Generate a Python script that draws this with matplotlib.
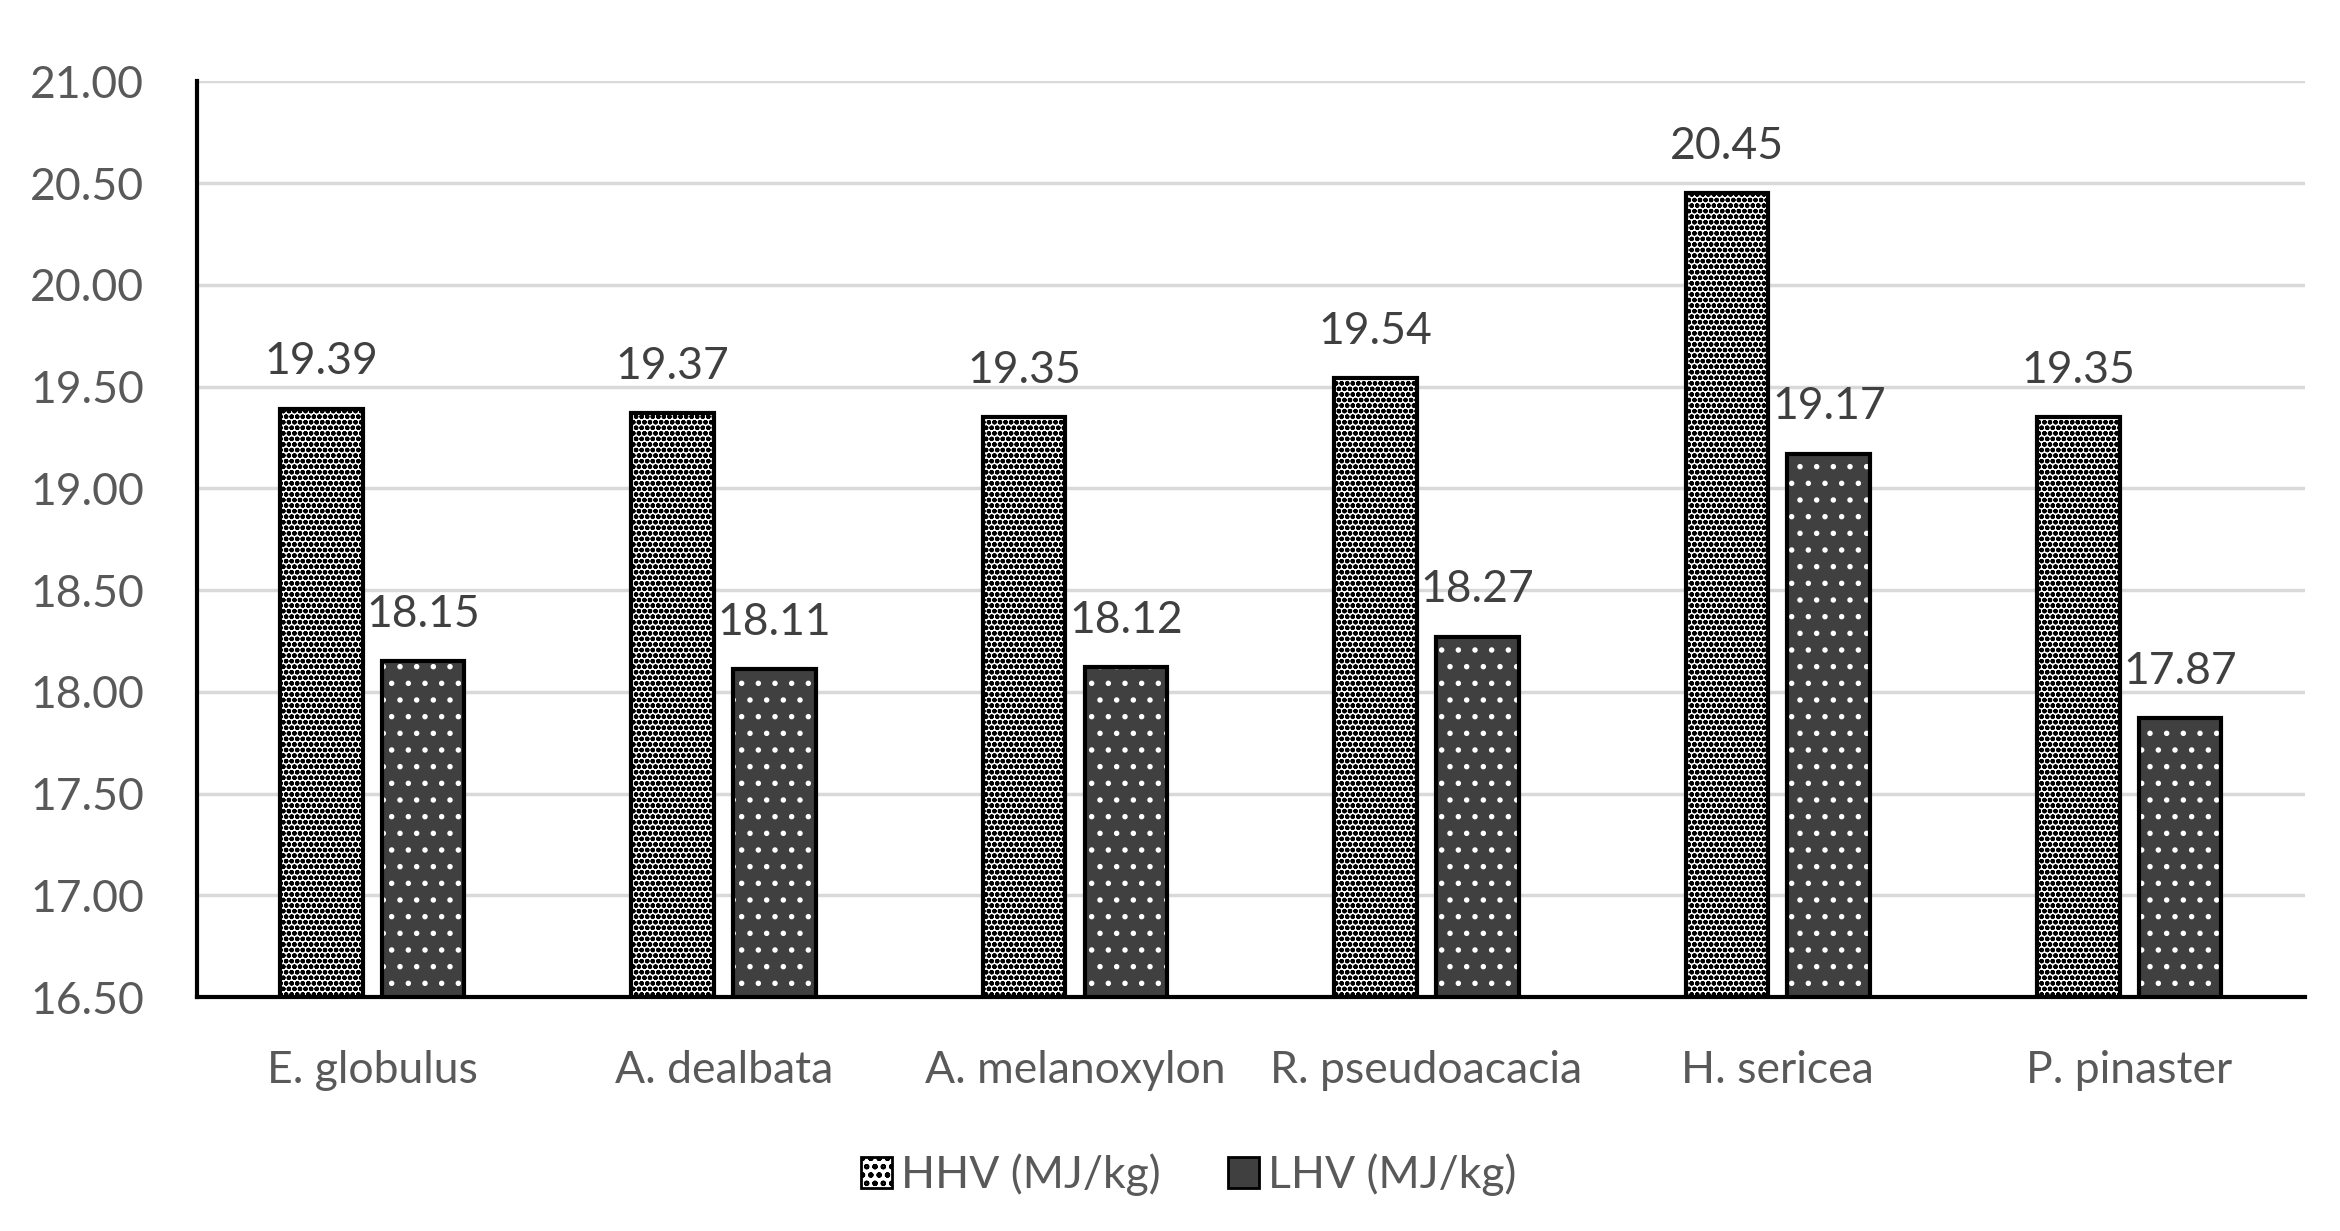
import numpy as np
import matplotlib
matplotlib.use('Agg')
import matplotlib.pyplot as plt
from matplotlib.patches import Patch

species = ['E. globulus', 'A. dealbata', 'A. melanoxylon', 'R. pseudoacacia', 'H. sericea', 'P. pinaster']
hhv = [19.39, 19.37, 19.35, 19.54, 20.45, 19.35]
lhv = [18.15, 18.11, 18.12, 18.27, 19.17, 17.87]
yticks = [16.5, 17.0, 17.5, 18.0, 18.5, 19.0, 19.5, 20.0, 20.5, 21.0]

plt.rcParams['font.family'] = ['Lato', 'DejaVu Sans']
txt = '#595959'

fig = plt.figure(figsize=(23.4, 12.31), dpi=100)
ax = fig.add_axes([0.084, 0.19, 0.901, 0.744])

x = np.arange(len(species))
w = 0.235
off = 0.145
base = yticks[0]

# HHV: dense black dots on white
plt.rcParams['hatch.linewidth'] = 1.6
ax.bar(x - off, np.array(hhv) - base, w, bottom=base, color='white',
       edgecolor='black', hatch='ooo', linewidth=0, zorder=3)
# LHV: dark grey with sparse white dots
plt.rcParams['hatch.linewidth'] = 1.5
ax.bar(x + off, np.array(lhv) - base, w, bottom=base, color='#404040',
       edgecolor='white', hatch='.', linewidth=0, zorder=3)
ax.bar(x - off, np.array(hhv) - base, w, bottom=base, fill=False,
       edgecolor='black', linewidth=3, zorder=4)
ax.bar(x + off, np.array(lhv) - base, w, bottom=base, fill=False,
       edgecolor='black', linewidth=3, zorder=4)

for xi, v in zip(x, hhv):
    ax.text(xi - off, v + 0.13, '%.2f' % v, ha='center', va='bottom', fontsize=32, color='#404040')
for xi, v in zip(x, lhv):
    ax.text(xi + off, v + 0.13, '%.2f' % v, ha='center', va='bottom', fontsize=32, color='#404040')

ax.set_xlim(-0.5, len(species) - 0.5)
ax.set_ylim(yticks[0], yticks[-1])
ax.set_yticks(yticks)
ax.set_yticklabels(['%.2f' % t for t in yticks])
ax.set_xticks(x)
ax.set_xticklabels(species)
ax.tick_params(axis='both', length=0, labelsize=32, labelcolor=txt)
ax.tick_params(axis='y', pad=38)
ax.tick_params(axis='x', pad=38)
ax.yaxis.grid(True, color='#d9d9d9', linewidth=2.5, zorder=0)
ax.set_axisbelow(True)
for s in ['top', 'right']:
    ax.spines[s].set_visible(False)
for s in ['left', 'bottom']:
    ax.spines[s].set_linewidth(3)
    ax.spines[s].set_color('black')

handles = [Patch(facecolor='white', edgecolor='black', hatch='oo', linewidth=2),
           Patch(facecolor='#404040', edgecolor='black', linewidth=2)]
leg = fig.legend(handles, ['HHV (MJ/kg)', 'LHV (MJ/kg)'], loc='center',
                 bbox_to_anchor=(0.508, 0.046), ncol=2, frameon=False, fontsize=32,
                 handlelength=0.7, handleheight=0.7, handletextpad=0.2, columnspacing=1.5)
for t in leg.get_texts():
    t.set_color(txt)

fig.savefig('out.png', dpi=100)
